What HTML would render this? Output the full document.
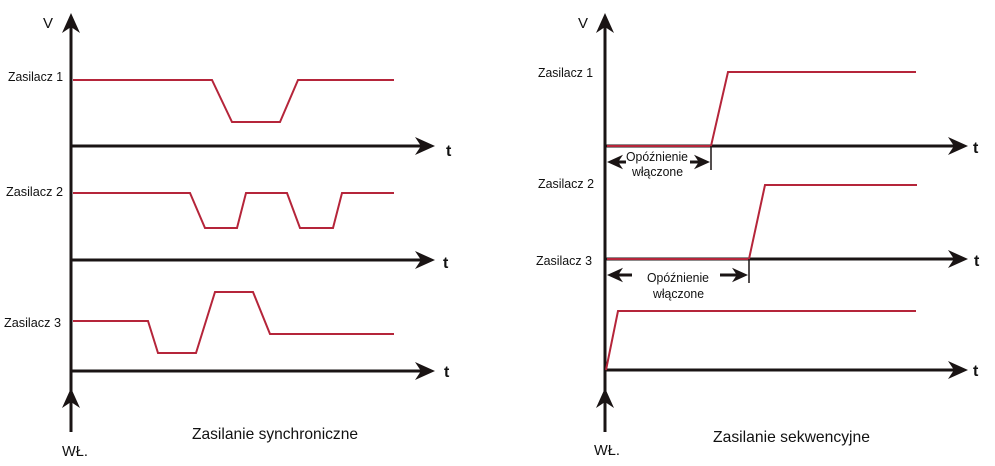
<!DOCTYPE html>
<html><head><meta charset="utf-8"><style>
html,body{margin:0;padding:0;background:#fff;}
svg{display:block;font-family:"Liberation Sans",sans-serif;}
</style></head><body>
<svg width="995" height="466" viewBox="0 0 995 466" xmlns="http://www.w3.org/2000/svg">
<defs>
<g id="ar"><polygon points="0,0 -20,-9 -14,0 -20,9" fill="#1a1414"/></g>
</defs>
<g stroke="#1a1414" stroke-width="3" fill="none">
<line x1="71" y1="25" x2="71" y2="432"/>
<line x1="70" y1="146" x2="422" y2="146"/>
<line x1="70" y1="260" x2="422" y2="260"/>
<line x1="70" y1="371" x2="422" y2="371"/>
<line x1="605" y1="25" x2="605" y2="432"/>
<line x1="605" y1="146" x2="955" y2="146"/>
<line x1="605" y1="259" x2="955" y2="259"/>
<line x1="605" y1="370" x2="955" y2="370"/>
</g>
<use href="#ar" transform="translate(71,13) rotate(-90)"/>
<use href="#ar" transform="translate(71,388) rotate(-90)"/>
<use href="#ar" transform="translate(435,146)"/>
<use href="#ar" transform="translate(435,260)"/>
<use href="#ar" transform="translate(435,371)"/>
<use href="#ar" transform="translate(605,13) rotate(-90)"/>
<use href="#ar" transform="translate(605,388) rotate(-90)"/>
<use href="#ar" transform="translate(968,146)"/>
<use href="#ar" transform="translate(968,259)"/>
<use href="#ar" transform="translate(968,370)"/>
<g stroke="#b5253a" stroke-width="2" fill="none">
<polyline points="73,80 212,80 232,122 280,122 298,80 394,80"/>
<polyline points="73,193 190,193 205,228 237,228 246,193 287,193 300,228 333,228 342,193 394,193"/>
<polyline points="73,321 148,321 158,353 196,353 215,292 253,292 270,334 394,334"/>
<polyline points="607,146 711,146 728,72 916,72"/>
<polyline points="607,259 749,259 765,185 917,185"/>
<polyline points="606,370 618,311 916,311"/>
</g>
<g stroke="#1a1414" stroke-width="1.5">
<line x1="711" y1="146" x2="711" y2="170"/>
<line x1="749" y1="259" x2="749" y2="283"/>
</g>
<g stroke="#1a1414" stroke-width="3">
<line x1="615" y1="162" x2="626" y2="162"/><line x1="690" y1="162" x2="700" y2="162"/>
<line x1="615" y1="275" x2="632" y2="275"/><line x1="720" y1="275" x2="738" y2="275"/>
</g>
<use href="#ar" transform="translate(607,162) rotate(180) scale(0.8)"/>
<use href="#ar" transform="translate(710,162) scale(0.8)"/>
<use href="#ar" transform="translate(607,275) rotate(180) scale(0.8)"/>
<use href="#ar" transform="translate(748,275) scale(0.8)"/>
<g font-size="13" fill="#111">
<text x="8" y="81" textLength="55" lengthAdjust="spacingAndGlyphs">Zasilacz 1</text>
<text x="6" y="196" textLength="57" lengthAdjust="spacingAndGlyphs">Zasilacz 2</text>
<text x="4" y="327" textLength="57" lengthAdjust="spacingAndGlyphs">Zasilacz 3</text>
<text x="538" y="77" textLength="55" lengthAdjust="spacingAndGlyphs">Zasilacz 1</text>
<text x="538" y="188" textLength="56" lengthAdjust="spacingAndGlyphs">Zasilacz 2</text>
<text x="536" y="265" textLength="56" lengthAdjust="spacingAndGlyphs">Zasilacz 3</text>
<text x="626" y="161" textLength="62" lengthAdjust="spacingAndGlyphs">Opóźnienie</text>
<text x="632" y="176" textLength="51" lengthAdjust="spacingAndGlyphs">włączone</text>
<text x="647" y="282" textLength="62" lengthAdjust="spacingAndGlyphs">Opóźnienie</text>
<text x="653" y="298" textLength="51" lengthAdjust="spacingAndGlyphs">włączone</text>
</g>
<g font-size="15" fill="#111">
<text x="43" y="28">V</text>
<text x="578" y="28">V</text>
<text x="62" y="456" textLength="26" lengthAdjust="spacingAndGlyphs">WŁ.</text>
<text x="594" y="455" textLength="26" lengthAdjust="spacingAndGlyphs">WŁ.</text>
</g>
<g font-size="16" fill="#111">
<text x="192" y="439" textLength="166" lengthAdjust="spacingAndGlyphs">Zasilanie synchroniczne</text>
<text x="713" y="442" textLength="157" lengthAdjust="spacingAndGlyphs">Zasilanie sekwencyjne</text>
</g>
<g font-size="16" font-weight="bold" fill="#111">
<text x="446" y="156">t</text>
<text x="443" y="268">t</text>
<text x="444" y="377">t</text>
<text x="973" y="153">t</text>
<text x="974" y="266">t</text>
<text x="973" y="376">t</text>
</g>
</svg>
</body></html>
